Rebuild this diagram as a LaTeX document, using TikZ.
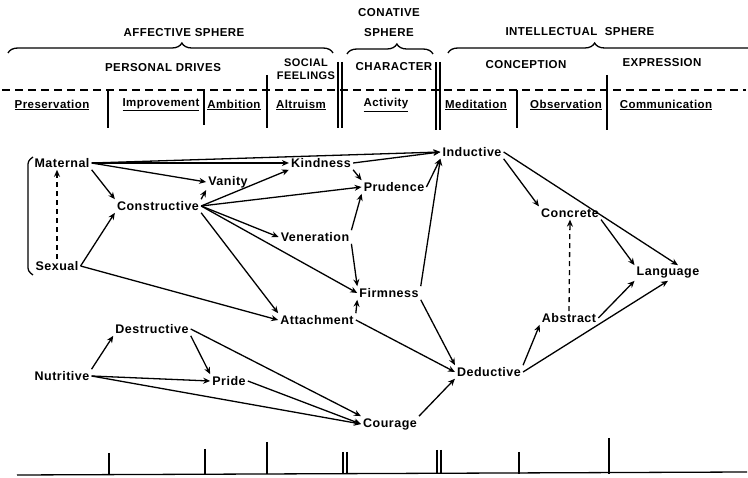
\documentclass[tikz,border=0pt]{standalone}
\usepackage{fontspec}
\newfontfamily\hand[LetterSpace=4]{Liberation Sans}
\usetikzlibrary{arrows.meta,decorations.pathreplacing}
\tikzset{
  trait/.style={font=\fontsize{12.5}{14}\hand\bfseries, inner sep=2pt},
  head/.style={font=\fontsize{11.5}{20}\hand\bfseries, align=center, inner sep=1pt},
  sub/.style={font=\fontsize{11.5}{14}\hand\bfseries, inner sep=1pt},
  link/.style={->, line width=1.3pt},
  hint/.style={->, line width=1.3pt, dash pattern=on 5pt off 4pt},
  sep/.style={line width=1.3pt},
  brc/.style={decorate, line width=1.3pt},
}
\begin{document}
\begin{tikzpicture}[x=1pt,y=-1pt,>={Stealth[length=7pt,width=6pt]}]
\useasboundingbox (0,0) rectangle (748,478);
% esferas
\node[head] (aff) at (184,33) {AFFECTIVE SPHERE};
\node[head] (cnt) at (389,23) {CONATIVE\\SPHERE};
\node[head] (itl) at (580,32) {INTELLECTUAL\ \ SPHERE};
\draw[brc,decoration={brace,amplitude=10pt,aspect=0.535}] (8,53) -- (333,53);
\draw[brc,decoration={brace,amplitude=10pt,aspect=0.58}] (347,54) -- (433,54);
\draw[brc,decoration={brace,amplitude=10pt,aspect=0.47}] (448,53) -- (760,53);
% grupos
\node[head] (per) at (163,68) {PERSONAL DRIVES};
\node[head,font=\fontsize{11}{13}\hand\bfseries] (soc) at (306,69) {SOCIAL\\FEELINGS};
\node[head] (chr) at (394,67) {CHARACTER};
\node[head] (cpt) at (526,65) {CONCEPTION};
\node[head] (exp) at (662,63) {EXPRESSION};
\draw[line width=1.3pt,dash pattern=on 8pt off 5pt] (2,90) -- (746,90);
% funciones
\node[sub] (pre) at (52,105) {\underline{Preservation}};
\node[sub] (imp) at (161,105) {\underline{Improvement}};
\node[sub] (amb) at (234,105) {\underline{Ambition}};
\node[sub] (alt) at (301,105) {\underline{Altruism}};
\node[sub] (act) at (386,105) {\underline{Activity}};
\node[sub] (med) at (476,105) {\underline{Meditation}};
\node[sub] (obs) at (566,105) {\underline{Observation}};
\node[sub] (com) at (666,105) {\underline{Communication}};
\draw[sep] (108,90) -- (108,128);
\draw[sep] (204,90) -- (204,125);
\draw[sep] (267,75) -- (267,128);
\draw[sep] (338,62) -- (338,128);
\draw[sep] (342,62) -- (342,128);
\draw[sep] (436,62) -- (436,130);
\draw[sep] (440,62) -- (440,130);
\draw[sep] (517,90) -- (517,128);
\draw[sep] (607,75) -- (607,130);
% instintos
\node[trait] (mat) at (62,163) {Maternal};
\node[trait] (sex) at (57,266) {Sexual};
\node[trait] (con) at (158,206) {Constructive};
\node[trait] (van) at (228,182) {Vanity};
\node[trait] (kin) at (321,163) {Kindness};
\node[trait] (pru) at (394,187) {Prudence};
\node[trait] (ven) at (315,237) {Veneration};
\node[trait] (fir) at (389,293) {Firmness};
\node[trait] (att) at (317,320) {Attachment};
\node[trait] (ind) at (472,152) {Inductive};
\node[trait] (cnc) at (570,213) {Concrete};
\node[trait] (lan) at (668,273) {Language};
\node[trait] (abs) at (569,318) {Abstract};
\node[trait] (ded) at (489,372) {Deductive};
\node[trait] (des) at (152,329) {Destructive};
\node[trait] (nut) at (62,376) {Nutritive};
\node[trait] (pri) at (229,381) {Pride};
\node[trait] (cou) at (390,424) {Courage};
\draw[sep,rounded corners=3pt] (33,157) -- (28,161) -- (28,271) -- (33,275); % corchete
% flechas
\draw[link] (mat.east) -- (ind.west);
\draw[link] (mat.east) -- (kin.west);
\draw[link] (mat.east) -- (van.west);
\draw[link] (mat.south east) -- (con.north west);
\draw[hint] (sex.north) -- (sex.north |- mat.south);
\draw[link] (sex.east) -- (con.south west);
\draw[link] (sex.east) -- (att.west);
\draw[link] (con.north east) -- (van.south west);
\draw[link] (con.east) -- (kin.south west);
\draw[link] (con.east) -- (pru.west);
\draw[link] (con.east) -- (ven.west);
\draw[link] (con.east) -- (fir.west);
\draw[link] (con.south east) -- (att.north west);
\draw[link] (kin.east) -- (ind.west);
\draw[link] (kin.south east) -- (pru.north west);
\draw[link] (pru.east) -- (ind.south west);
\draw[link] (ven.north east) -- (pru.south west);
\draw[link] (ven.south east) -- (fir.north west);
\draw[link] (att.north east) -- (fir.south west);
\draw[link] (att.east) -- (ded.west);
\draw[link] (fir.north east) -- (ind.south west);
\draw[link] (fir.south east) -- (ded.north west);
\draw[link] (ind.south east) -- (cnc.north west);
\draw[link] (ind.east) -- ([xshift=10pt]lan.north);
\draw[link] (cnc.south east) -- (lan.north west);
\draw[hint] (abs.north) -- (cnc.south);
\draw[link] (abs.east) -- (lan.south west);
\draw[link] (ded.north east) -- (abs.south west);
\draw[link] (ded.east) -- (lan.south);
\draw[link] (cou.north east) -- (ded.south west);
\draw[link] (nut.north east) -- (des.south west);
\draw[link] (nut.east) -- (pri.west);
\draw[link] (nut.east) -- (cou.west);
\draw[link] (des.south east) -- (pri.north west);
\draw[link] (des.east) -- (cou.north west);
\draw[link] (pri.east) -- (cou.west);
% escala
\draw[sep] (17,475) -- (747,472);
\foreach \x/\y in {109/453,205/449,267/442,343/452,347/452,437/450,441/450,519/452,609/438}
  \draw[sep] (\x,\y) -- (\x,474);
\end{tikzpicture}
\end{document}
